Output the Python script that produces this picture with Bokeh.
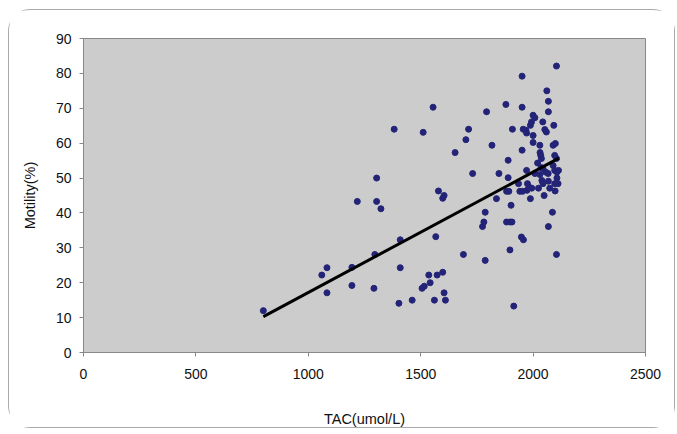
from bokeh.plotting import figure
from bokeh.models import Range1d, FixedTicker
from bokeh.embed import file_html
from bokeh.resources import INLINE

# TAC (umol/L) values
tac = [800,
       1060, 1083, 1083,
       1194, 1194, 1218,
       1292, 1296, 1304, 1304, 1323,
       1382, 1403, 1409, 1409,
       1462, 1506, 1516, 1511, 1536, 1542, 1555, 1561, 1567, 1573, 1579, 1598, 1598, 1604, 1604, 1610,
       1653, 1690, 1701, 1713, 1731,
       1775, 1781, 1787, 1787, 1793, 1817, 1837, 1848,
       1879, 1882, 1882, 1889, 1889, 1892, 1897, 1897, 1902, 1906, 1908, 1914,
       1935, 1941, 1948, 1951, 1951, 1951, 1953, 1956, 1957, 1968, 1971, 1971, 1973, 1975, 1982,
       1988, 1988, 1993, 1994, 2000, 2000, 2000, 2008, 2008, 2020, 2024, 2030, 2031, 2034, 2037,
       2039, 2043, 2044, 2044, 2049, 2052, 2056, 2059, 2061, 2068, 2068, 2067, 2068, 2068, 2074,
       2086, 2089, 2089, 2092, 2096, 2096, 2096, 2098, 2099, 2104, 2104, 2104, 2106, 2111, 2113, 2106,
       2030, 2036]

# Motility (%) values
motility = [12.0,
            22.2, 24.3, 17.1,
            24.4, 19.2, 43.3,
            18.4, 28.1, 50.0, 43.3, 41.2,
            64.0, 14.1, 32.3, 24.3,
            15.0, 18.4, 19.0, 63.1, 22.2, 20.0, 70.3, 15.0, 33.2, 22.2, 46.3, 23.0, 44.2, 45.0, 17.1, 15.0,
            57.3, 28.1, 61.0, 64.0, 51.3,
            36.1, 37.4, 40.2, 26.4, 69.0, 59.4, 44.1, 51.3,
            71.1, 46.2, 37.4, 55.1, 50.1, 46.2, 37.4, 29.4, 42.2, 37.4, 64.0, 13.3,
            48.4, 46.2, 33.1, 79.2, 70.3, 58.0, 46.2, 64.0, 32.3, 63.7, 62.9, 52.2, 46.5, 48.4, 47.4,
            65.1, 44.1, 66.1, 47.1, 68.0, 62.2, 60.2, 67.3, 51.3, 54.3, 47.1, 59.4, 57.3, 56.5, 55.6,
            49.3, 66.1, 48.4, 52.7, 45.0, 63.9, 51.7, 63.2, 75.0, 72.0, 69.0, 51.3, 49.1, 36.1, 47.1,
            40.2, 53.6, 59.4, 65.1, 52.2, 48.4, 56.5, 46.3, 59.9, 82.1, 28.1, 55.6, 51.7, 48.4, 52.2, 50.0,
            51.0, 53.0]

# Linear trend line end points
trend_x = [800, 2115]
trend_y = [10.3, 55.7]

x_ticks = [0, 500, 1000, 1500, 2000, 2500]
y_ticks = [0, 10, 20, 30, 40, 50, 60, 70, 80, 90]

p = figure(width=667, height=419, output_backend="svg", toolbar_location=None,
           x_range=Range1d(0, 2500), y_range=Range1d(0, 90),
           styles={"border": "1px solid #AAAAAA", "border-radius": "22px",
                   "margin-left": "8px", "margin-top": "9px",
                   "box-sizing": "border-box"})
p.min_border_left = 74
p.min_border_top = 28
p.min_border_right = 31
p.min_border_bottom = 76
p.background_fill_color = "#CCCCCC"
p.border_fill_color = "white"
p.outline_line_color = "#888888"
p.outline_line_width = 1
p.xgrid.visible = False
p.ygrid.visible = False

font = "Liberation Sans"
for ax in (p.xaxis, p.yaxis):
    ax.axis_line_color = "#888888"
    ax.major_tick_line_color = "#888888"
    ax.minor_tick_line_color = None
    ax.major_tick_in = 0
    ax.major_tick_out = 4
    ax.major_label_text_font = font
    ax.major_label_text_font_size = "14px"
    ax.major_label_text_color = "#111111"
    ax.axis_label_text_font = font
    ax.axis_label_text_font_size = "14.5px"
    ax.axis_label_text_font_style = "normal"
    ax.axis_label_text_color = "#111111"

p.xaxis.ticker = FixedTicker(ticks=x_ticks)
p.yaxis.ticker = FixedTicker(ticks=y_ticks)
p.xaxis.axis_label = "TAC(umol/L)"
p.yaxis.axis_label = "Motility(%)"
p.xaxis.major_label_standoff = 12
p.yaxis.major_label_standoff = 8
p.xaxis.axis_label_standoff = 29
p.yaxis.axis_label_standoff = 15

p.scatter(tac, motility, size=6, fill_color="#232378", line_color="#232378")
p.line(trend_x, trend_y, line_color="black", line_width=3)

open("out.html", "w").write(file_html(p, INLINE))
